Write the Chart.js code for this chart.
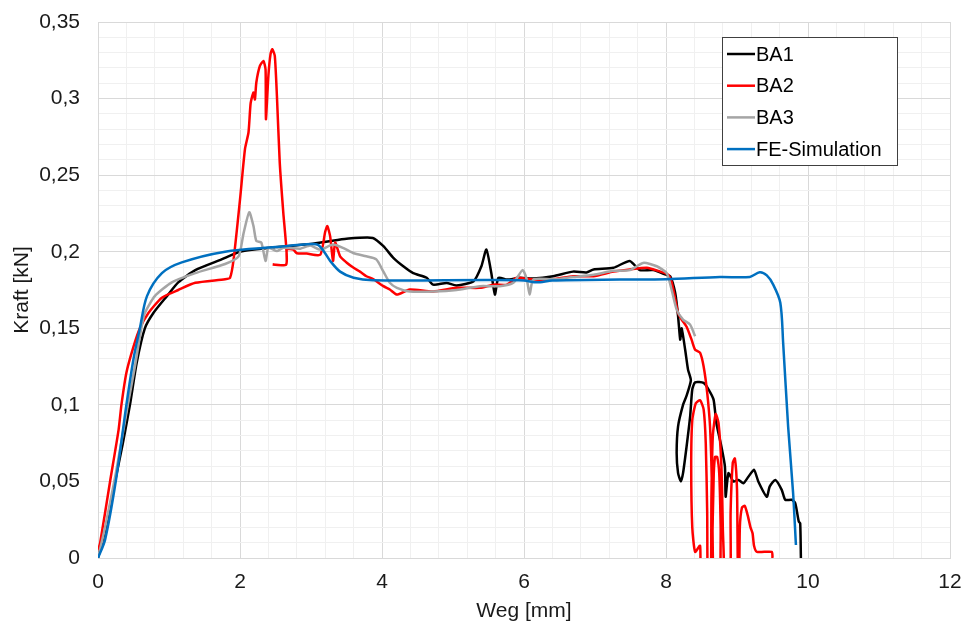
<!DOCTYPE html>
<html>
<head>
<meta charset="utf-8">
<script src="https://cdn.jsdelivr.net/npm/chart.js@4.4.1/dist/chart.umd.min.js"></script>
<style>
  html, body { margin: 0; padding: 0; background: #fff; }
  #wrap { width: 964px; height: 624px; }
</style>
</head>
<body>
<div id="wrap"><canvas id="chart" width="964" height="624"></canvas></div>
<script>
// ==================== DATA ====================
const seriesNames = ['BA1', 'BA2', 'BA3', 'FE-Simulation'];
const seriesColors = ['#000000', '#ff0000', '#a5a5a5', '#0070c0'];

// BA1 - Weg [mm] / Kraft [kN]
const ba1X = [0, 0.1, 0.24, 0.35, 0.45, 0.545, 0.66, 0.78, 0.97, 1.13, 1.37, 1.74, 2.0, 2.5, 3.0, 3.27, 3.5, 3.87,
  4.02, 4.16, 4.3, 4.44, 4.63, 4.72, 4.91, 5.05, 5.29, 5.40, 5.47, 5.54, 5.59, 5.64, 5.76, 5.94, 6.13, 6.41, 6.69,
  6.88, 6.98, 7.26, 7.49, 7.63, 7.82, 8.0, 8.06, 8.13, 8.17, 8.20, 8.22, 8.27, 8.31, 8.35,
  8.29, 8.24, 8.17, 8.15, 8.17, 8.21, 8.24, 8.29, 8.34, 8.37, 8.41, 8.53, 8.60, 8.67, 8.71, 8.78, 8.83, 8.84, 8.88,
  8.95, 9.02, 9.09, 9.16, 9.24, 9.30, 9.42, 9.46, 9.54, 9.63, 9.68, 9.77, 9.82, 9.87, 9.89, 9.90];
const ba1Y = [0, 0.018, 0.05, 0.075, 0.1, 0.1275, 0.15, 0.16, 0.171, 0.18, 0.188, 0.195, 0.2, 0.203, 0.205, 0.207, 0.2085, 0.209,
  0.2036, 0.196, 0.1905, 0.186, 0.183, 0.1785, 0.1796, 0.178, 0.1807, 0.1905, 0.2014, 0.186, 0.172, 0.183, 0.1818, 0.183, 0.1825, 0.184, 0.187,
  0.1865, 0.1884, 0.1895, 0.194, 0.188, 0.188, 0.185, 0.184, 0.173, 0.158, 0.1426, 0.150, 0.136, 0.123, 0.116,
  0.106, 0.1, 0.086, 0.0685, 0.0554, 0.050, 0.0554, 0.0728, 0.0924, 0.110, 0.1147, 0.1143, 0.110, 0.1034, 0.088, 0.0728, 0.0597, 0.040, 0.0554,
  0.050, 0.051, 0.0488, 0.053, 0.0576, 0.050, 0.040, 0.0466, 0.051, 0.0445, 0.038, 0.038, 0.0358, 0.0238, 0.0227, 0];

// BA2
const ba2X = [0, 0.03, 0.17, 0.29, 0.33, 0.40, 0.50, 0.59, 0.71, 0.90, 1.13, 1.37, 1.79, 1.86, 1.91, 2.0, 2.07, 2.12, 2.15,
  2.19, 2.21, 2.23, 2.28, 2.33, 2.36, 2.365, 2.40, 2.43, 2.455, 2.49, 2.52, 2.56, 2.61, 2.65, 2.65, 2.46, 2.65, 2.66,
  2.75, 2.80, 2.94, 3.13, 3.20, 3.23, 3.27, 3.31, 3.34, 3.41, 3.50, 3.60, 3.69, 3.78, 3.88, 4.02, 4.11, 4.21, 4.39,
  4.72, 5.05, 5.38, 5.57, 5.76, 5.90, 6.13, 6.41, 6.69, 6.98, 7.26, 7.49, 7.73, 7.92, 8.03, 8.08, 8.13, 8.17, 8.22,
  8.29, 8.36, 8.41, 8.48, 8.53, 8.58, 8.62, 8.645, 8.66, 8.665,
  8.50, 8.48, 8.41, 8.37, 8.355, 8.37, 8.42, 8.48, 8.53, 8.56, 8.58, 8.59,
  8.63, 8.64, 8.66, 8.70, 8.74, 8.78, 8.80, 8.81,
  8.66, 8.67, 8.69, 8.72, 8.75, 8.77, 8.78,
  8.90, 8.91, 8.94, 8.97, 9.0, 9.01, 9.02,
  9.03, 9.04, 9.07, 9.11, 9.15, 9.19, 9.22, 9.24, 9.28, 9.49, 9.50];
const ba2Y = [0.005, 0.0098, 0.05, 0.0837, 0.1, 0.121, 0.138, 0.15, 0.16, 0.170, 0.175, 0.1797, 0.182, 0.183, 0.195, 0.234, 0.267, 0.278, 0.297,
  0.304, 0.2995, 0.3105, 0.3213, 0.3246, 0.319, 0.2865, 0.315, 0.329, 0.3322, 0.3279, 0.3017, 0.258, 0.2254, 0.2036, 0.1916, 0.1916, 0.1916, 0.2014,
  0.2014, 0.199, 0.1988, 0.198, 0.213, 0.2167, 0.210, 0.194, 0.206, 0.197, 0.193, 0.1895, 0.187, 0.184, 0.182, 0.1775, 0.1753, 0.172, 0.1753,
  0.174, 0.1764, 0.1764, 0.1785, 0.1785, 0.183, 0.1818, 0.182, 0.184, 0.184, 0.187, 0.1884, 0.1895, 0.187, 0.185, 0.18, 0.169, 0.16, 0.1557,
  0.151, 0.1426, 0.136, 0.134, 0.125, 0.108, 0.086, 0.05, 0.0, -0.02,
  -0.02, 0.008, 0.004, 0.02, 0.06, 0.09, 0.101, 0.103, 0.097, 0.075, 0.03, -0.02,
  -0.02, 0.04, 0.08, 0.094, 0.088, 0.06, 0.02, -0.02,
  -0.02, 0.05, 0.066, 0.066, 0.055, 0.02, -0.02,
  -0.02, 0.03, 0.062, 0.065, 0.045, 0.0, -0.02,
  -0.02, 0.02, 0.033, 0.034, 0.028, 0.02, 0.016, 0.008, 0.004, 0.004, 0.0];

// BA3
const ba3X = [0, 0.1, 0.25, 0.42, 0.52, 0.61, 0.66, 0.80, 1.04, 1.37, 1.79, 1.98, 2.05, 2.13, 2.19, 2.23, 2.30, 2.36, 2.40,
  2.52, 2.61, 2.85, 2.99, 3.13, 3.31, 3.45, 3.6, 3.78, 3.92, 4.02, 4.11, 4.21, 4.39, 4.72, 5.05, 5.38, 5.66, 5.85,
  5.98, 6.04, 6.08, 6.13, 6.41, 6.69, 6.98, 7.26, 7.49, 7.68, 7.87, 8.01, 8.08, 8.15, 8.24, 8.34, 8.41];
const ba3Y = [0, 0.02, 0.055, 0.1, 0.125, 0.15, 0.16, 0.171, 0.18, 0.186, 0.192, 0.197, 0.212, 0.2258, 0.2167, 0.207, 0.206, 0.194, 0.2026,
  0.2004, 0.2026, 0.202, 0.204, 0.2014, 0.2047, 0.2025, 0.199, 0.197, 0.195, 0.187, 0.1797, 0.1764, 0.174, 0.174, 0.175, 0.1775, 0.1775, 0.1797,
  0.188, 0.1818, 0.172, 0.1818, 0.182, 0.1835, 0.185, 0.1875, 0.188, 0.1927, 0.1905, 0.186, 0.175, 0.1622, 0.1557, 0.1524, 0.1448];

// FE-Simulation
const feX = [0, 0.1, 0.25, 0.40, 0.50, 0.59, 0.69, 0.90, 1.18, 1.79, 2.5, 3.0, 3.10, 3.17, 3.27, 3.41, 3.6, 3.87,
  5.5, 6.0, 6.18, 6.4, 7.35, 8.0, 8.76, 9.18, 9.32, 9.42, 9.51, 9.61, 9.65, 9.72, 9.79, 9.83];
const feY = [0, 0.012, 0.05, 0.1, 0.13, 0.15, 0.171, 0.186, 0.193, 0.2, 0.203, 0.205, 0.2045, 0.201, 0.194, 0.187, 0.183, 0.1814,
  0.1815, 0.1812, 0.180, 0.1812, 0.1818, 0.182, 0.1835, 0.1835, 0.1866, 0.1845, 0.1785, 0.1667, 0.1405, 0.0859, 0.0425, 0.0085];

const xTitle = 'Weg [mm]';
const yTitle = 'Kraft [kN]';

// ==================== HELPERS ====================
const toPoints = (xs, ys) => xs.map((x, i) => ({ x: x, y: ys[i] }));
const isMult = (v, step) => Math.abs(v / step - Math.round(v / step)) < 1e-6;
const FONT = "'Liberation Sans', Arial, sans-serif";
const majorGrid = '#d9d9d9';
const minorGrid = '#f0f0f0';

// legend box drawn inside the plot (top right)
const boxLegend = {
    id: 'boxLegend',
    afterDraw(chart) {
        const { ctx, chartArea } = chart;
        const x0 = chartArea.right - 228;
        const y0 = chartArea.top + 15;
        const w = 175, h = 128;
        ctx.save();
        ctx.fillStyle = '#ffffff';
        ctx.fillRect(x0, y0, w, h);
        ctx.strokeStyle = '#404040';
        ctx.lineWidth = 1;
        ctx.strokeRect(x0 + 0.5, y0 + 0.5, w, h);
        ctx.font = '20px ' + FONT;
        ctx.textBaseline = 'middle';
        seriesNames.forEach((name, i) => {
            const y = y0 + 17 + i * 31.7;
            ctx.strokeStyle = seriesColors[i];
            ctx.lineWidth = 2.5;
            ctx.beginPath();
            ctx.moveTo(x0 + 5, y);
            ctx.lineTo(x0 + 33, y);
            ctx.stroke();
            ctx.fillStyle = '#000';
            ctx.fillText(name, x0 + 34, y + 1);
        });
        ctx.restore();
    }
};

// ==================== CHART ====================
const allX = [ba1X, ba2X, ba3X, feX];
const allY = [ba1Y, ba2Y, ba3Y, feY];
const orders = [4, 3, 2, 1];

new Chart(document.getElementById('chart'), {
    type: 'scatter',
    data: {
        datasets: seriesNames.map((name, i) => ({
            label: name,
            data: toPoints(allX[i], allY[i]),
            showLine: true,
            borderColor: seriesColors[i],
            backgroundColor: seriesColors[i],
            borderWidth: 2.5,
            pointRadius: 0,
            tension: i === 3 ? 0.3 : 0.2,
            order: orders[i],
            clip: 0
        }))
    },
    options: {
        responsive: false,
        animation: false,
        layout: { padding: { top: 22, right: 14, left: 0, bottom: 0 } },
        plugins: { legend: { display: false }, tooltip: { enabled: false } },
        scales: {
            x: {
                type: 'linear',
                min: 0, max: 12,
                afterFit: s => { s.height = 66; s.paddingLeft = 0; s.paddingRight = 0; },
                border: { color: majorGrid },
                grid: {
                    drawTicks: false,
                    color: c => (c.tick && isMult(c.tick.value, 2)) ? majorGrid : minorGrid
                },
                ticks: {
                    stepSize: 0.4, autoSkip: false, maxRotation: 0, padding: 12,
                    color: '#1a1a1a', font: { family: FONT, size: 21 },
                    callback: v => isMult(v, 2) ? String(Math.round(v)) : ''
                },
                title: {
                    display: true, text: xTitle, color: '#1a1a1a',
                    font: { family: FONT, size: 21 }, padding: { top: 0, bottom: 0 }
                }
            },
            y: {
                type: 'linear',
                min: 0, max: 0.35,
                afterFit: s => { s.width = 98; s.paddingTop = 0; s.paddingBottom = 0; },
                border: { color: majorGrid },
                grid: {
                    drawTicks: false,
                    color: c => (c.tick && isMult(c.tick.value, 0.05)) ? majorGrid : minorGrid
                },
                ticks: {
                    stepSize: 0.01, autoSkip: false, padding: 18,
                    color: '#1a1a1a', font: { family: FONT, size: 21 },
                    callback: v => isMult(v, 0.05) ? String(+v.toFixed(2)).replace('.', ',') : ''
                },
                title: {
                    display: true, text: yTitle, color: '#1a1a1a',
                    font: { family: FONT, size: 21 }, padding: { top: 10, bottom: 0 }
                }
            }
        }
    },
    plugins: [boxLegend]
});
</script>
</body>
</html>
